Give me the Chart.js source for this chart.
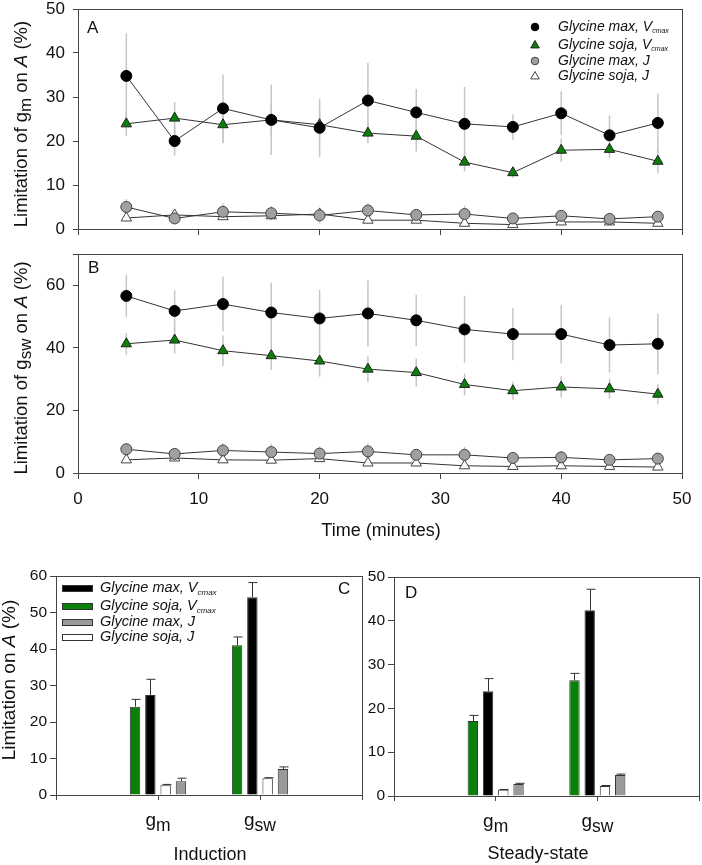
<!DOCTYPE html>
<html>
<head>
<meta charset="utf-8">
<script src="https://cdn.jsdelivr.net/npm/chart.js@4.4.1/dist/chart.umd.min.js"></script>
<style>
  body { margin: 0; background: #fff; }
  #wrap { position: relative; width: 702px; height: 865px; }
  canvas { position: absolute; }
</style>
</head>
<body>
<div id="wrap">
  <canvas id="chartA" width="702" height="240" style="left:0;top:0"></canvas>
  <canvas id="chartB" width="702" height="305" style="left:0;top:240px"></canvas>
  <canvas id="chartC" width="364" height="320" style="left:0;top:545px"></canvas>
  <canvas id="chartD" width="338" height="320" style="left:364px;top:545px"></canvas>
</div>
<script>
// time course (panels A and B)
var timeMinutes = [4, 8, 12, 16, 20, 24, 28, 32, 36, 40, 44, 48];

// panel A: limitation of gm on A (%)
var gmMaxVcmax     = [34.8, 20.0, 27.4, 24.8, 23.0, 29.2, 26.5, 23.9, 23.2, 26.3, 21.3, 24.1];
var gmMaxVcmaxSE   = [9.7, 3.3, 7.7, 8.0, 6.6, 8.5, 5.3, 8.4, 2.9, 5.0, 4.5, 6.7];
var gmSojaVcmax    = [23.9, 25.2, 23.7, 24.8, 23.7, 21.8, 21.1, 15.2, 12.8, 17.9, 18.1, 15.4];
var gmSojaVcmaxSE  = [2.7, 3.7, 4.2, 4.0, 3.0, 2.3, 3.5, 2.1, 1.2, 2.7, 2.0, 2.8];
var gmMaxJ         = [5.0, 2.4, 3.9, 3.6, 3.1, 4.2, 3.2, 3.4, 2.4, 3.0, 2.3, 2.8];
var gmMaxJSE       = [1.8, 1.0, 1.9, 1.6, 1.8, 1.7, 1.0, 1.9, 1.0, 1.2, 0.8, 1.0];
var gmSojaJ        = [2.5, 3.2, 2.8, 3.0, 3.4, 2.0, 2.0, 1.3, 1.0, 1.6, 1.6, 1.3];
var gmSojaJSE      = [0.5, 0.6, 0.5, 0.6, 0.6, 0.4, 0.4, 0.3, 0.3, 0.4, 0.4, 0.3];

// panel B: limitation of gsw on A (%)
var gswMaxVcmax    = [56.6, 51.8, 54.0, 51.3, 49.4, 51.0, 48.8, 45.9, 44.4, 44.4, 40.9, 41.3];
var gswMaxVcmaxSE  = [6.8, 6.6, 8.8, 9.5, 9.2, 10.6, 8.2, 10.7, 8.4, 9.4, 8.8, 9.7];
var gswSojaVcmax   = [41.3, 42.5, 39.1, 37.5, 35.8, 33.2, 32.1, 28.3, 26.3, 27.5, 26.9, 25.2];
var gswSojaVcmaxSE = [3.5, 4.3, 4.9, 4.6, 5.0, 4.1, 4.5, 3.5, 2.9, 3.4, 3.2, 3.2];
var gswMaxJ        = [7.6, 6.1, 7.2, 6.7, 6.2, 6.9, 5.8, 5.8, 4.8, 5.0, 4.2, 4.6];
var gswMaxJSE      = [2.0, 1.8, 2.4, 2.6, 2.3, 2.6, 1.9, 2.6, 1.7, 2.0, 1.6, 1.8];
var gswSojaJ       = [4.2, 4.8, 4.2, 4.1, 4.6, 3.2, 3.2, 2.3, 2.1, 2.3, 2.1, 1.9];
var gswSojaJSE     = [0.6, 0.6, 0.6, 0.6, 0.7, 0.5, 0.5, 0.4, 0.4, 0.4, 0.4, 0.4];

// panels C and D: subscripts of g for the two categories
var barCategories = ['m', 'sw'];
var inductionSojaVcmax   = [24.2, 41.0], inductionSojaVcmaxSE = [2.0, 2.3];
var inductionMaxVcmax    = [27.4, 54.2], inductionMaxVcmaxSE  = [4.3, 4.0];
var inductionSojaJ       = [2.7, 4.6],   inductionSojaJSE     = [0.2, 0.15];
var inductionMaxJ        = [3.8, 7.1],   inductionMaxJSE      = [0.8, 0.6];
var steadySojaVcmax      = [17.1, 26.4], steadySojaVcmaxSE    = [1.3, 1.6];
var steadyMaxVcmax       = [23.9, 42.4], steadyMaxVcmaxSE     = [2.9, 4.8];
var steadySojaJ          = [1.4, 2.3],   steadySojaJSE        = [0.1, 0.1];
var steadyMaxJ           = [2.75, 4.8],  steadyMaxJSE         = [0.15, 0.2];

var FAMILY = 'Arial, "Liberation Sans", sans-serif';
var GREEN = '#0a800a';
var EDGE = '#444';
var drawers = {};   // extra texts per canvas id

// draws a run of text pieces: [text, flags]; flags: 'i' italic, 's' small subscript, 'S' lowered full-size
function drawRich(ctx, parts, x, y, align, size) {
  function has(p, f) { return (p[1] || '').indexOf(f) >= 0; }
  function fontOf(p) {
    var sz = has(p, 's') ? Math.round(size * 0.52) : (has(p, 'S') ? size * 0.92 : size);
    return (has(p, 'i') ? 'italic ' : '') + sz + 'px ' + FAMILY;
  }
  var w = 0;
  parts.forEach(function (p) { ctx.font = fontOf(p); w += ctx.measureText(p[0]).width; });
  var cx = align === 'center' ? x - w / 2 : (align === 'right' ? x - w : x);
  ctx.textAlign = 'left';
  ctx.textBaseline = 'middle';
  ctx.fillStyle = '#111';
  parts.forEach(function (p) {
    ctx.font = fontOf(p);
    var dy = has(p, 's') ? size * 0.3 : (has(p, 'S') ? size * 0.25 : 0);
    ctx.fillText(p[0], cx, y + dy);
    cx += ctx.measureText(p[0]).width;
  });
}

function drawVTitle(ctx, parts, x, y, size) {
  ctx.save();
  ctx.translate(x, y);
  ctx.rotate(-Math.PI / 2);
  drawRich(ctx, parts, 0, 0, 'center', size);
  ctx.restore();
}

function drawMarker(ctx, style, x, y, r, fill, stroke) {
  ctx.save();
  ctx.fillStyle = fill;
  ctx.strokeStyle = stroke;
  ctx.lineWidth = 1;
  ctx.beginPath();
  if (style === 'circle') {
    ctx.arc(x, y, r, 0, Math.PI * 2);
  } else {
    ctx.moveTo(x, y - r);
    ctx.lineTo(x + r * 0.95, y + r * 0.65);
    ctx.lineTo(x - r * 0.95, y + r * 0.65);
    ctx.closePath();
  }
  ctx.fill();
  ctx.stroke();
  ctx.restore();
}

// no automatic room for label overhang: the layout padding places the plot box
function noOverhang(s) {
  s.paddingTop = 0; s.paddingBottom = 0; s.paddingLeft = 0; s.paddingRight = 0;
}

// frame, error bars and extra texts
var extras = {
  id: 'extras',
  beforeDatasetsDraw: function (chart) {
    var ctx = chart.ctx;
    var ys = chart.scales.y, xs = chart.scales.x;
    if (chart.config.type !== 'line') return;
    ctx.save();
    ctx.strokeStyle = '#c6c6c6';
    ctx.lineWidth = 1.5;
    chart.data.datasets.forEach(function (ds) {
      ds.data.forEach(function (pt, i) {
        var px = xs.getPixelForValue(pt.x);
        ctx.beginPath();
        ctx.moveTo(px, ys.getPixelForValue(pt.y - ds.errors[i]));
        ctx.lineTo(px, ys.getPixelForValue(pt.y + ds.errors[i]));
        ctx.stroke();
      });
    });
    ctx.restore();
  },
  afterDatasetsDraw: function (chart) {
    var ctx = chart.ctx;
    var ys = chart.scales.y;
    if (chart.config.type === 'bar') {
      ctx.save();
      ctx.strokeStyle = '#333';
      ctx.lineWidth = 1;
      chart.data.datasets.forEach(function (ds, di) {
        chart.getDatasetMeta(di).data.forEach(function (el, i) {
          var top = ys.getPixelForValue(ds.data[i].y + ds.errors[i]);
          var x = Math.round(el.x) + 0.5;
          ctx.beginPath();
          ctx.moveTo(x, el.y);
          ctx.lineTo(x, top);
          ctx.moveTo(x - 4, top);
          ctx.lineTo(x + 5, top);
          ctx.stroke();
        });
      });
      ctx.restore();
    }
  },
  afterDraw: function (chart) {
    var ctx = chart.ctx;
    var a = chart.chartArea;
    ctx.save();
    ctx.strokeStyle = EDGE;
    ctx.lineWidth = 1;
    ctx.strokeRect(Math.round(a.left) + 0.5, Math.round(a.top) + 0.5, Math.round(a.right - a.left), Math.round(a.bottom - a.top));
    ctx.restore();
    var fn = drawers[chart.canvas.id];
    if (fn) fn(chart, ctx);
  }
};
Chart.register(extras);

function lineSet(values, errors, style, fill, stroke, r) {
  return {
    data: timeMinutes.map(function (t, i) { return { x: t, y: values[i] }; }),
    errors: errors,
    borderColor: '#333',
    borderWidth: 1,
    pointStyle: style,
    pointRadius: r,
    pointBackgroundColor: fill,
    pointBorderColor: stroke,
    pointBorderWidth: 1
  };
}

function lineChart(id, sets, ymax, ystep, padTop, xHeight, showX, draw) {
  drawers[id] = draw;
  return new Chart(document.getElementById(id), {
    type: 'line',
    data: { datasets: sets },
    options: {
      responsive: false,
      animation: false,
      devicePixelRatio: 1,
      layout: { padding: { top: padTop, right: 20, left: 0, bottom: 0 } },
      plugins: { legend: { display: false }, tooltip: { enabled: false } },
      scales: {
        x: {
          type: 'linear', min: 0, max: 50,
          ticks: { stepSize: 10, display: showX, color: '#111', padding: 10, font: { size: 17, family: FAMILY } },
          grid: { drawOnChartArea: false, tickLength: 6, color: EDGE },
          border: { display: false },
          afterFit: function (s) { s.height = xHeight; noOverhang(s); }
        },
        y: {
          min: 0, max: ymax,
          ticks: {
            stepSize: ystep, color: '#111', padding: 8, font: { size: 17, family: FAMILY },
            callback: function (v) { return v % ystep === 0 ? v : ''; }
          },
          grid: { drawOnChartArea: false, tickLength: 5, color: EDGE },
          border: { display: false },
          afterFit: function (s) { s.width = 78; noOverhang(s); }
        }
      }
    }
  });
}

lineChart('chartA', [
  lineSet(gmMaxVcmax, gmMaxVcmaxSE, 'circle', '#000', '#000', 5.5),
  lineSet(gmSojaVcmax, gmSojaVcmaxSE, 'triangle', GREEN, '#222', 6),
  lineSet(gmMaxJ, gmMaxJSE, 'circle', '#a0a0a0', '#444', 5.5),
  lineSet(gmSojaJ, gmSojaJSE, 'triangle', '#fff', '#444', 6)
], 50, 10, 9, 11, false, function (chart, ctx) {
  drawVTitle(ctx, [['Limitation of g'], ['m', 'S'], [' on '], ['A', 'i'], [' (%)']], 22, 124, 18.5);
  drawRich(ctx, [['A']], 87, 28, 'left', 17);
  var rows = [
    ['circle', '#000', '#000', [['Glycine max, V', 'i'], ['cmax', 'is']]],
    ['triangle', GREEN, '#222', [['Glycine soja, V', 'i'], ['cmax', 'is']]],
    ['circle', '#a0a0a0', '#444', [['Glycine max, J', 'i']]],
    ['triangle', '#fff', '#444', [['Glycine soja, J', 'i']]]
  ];
  var ry = [27, 45, 61, 76];
  rows.forEach(function (r, i) {
    drawMarker(ctx, r[0], 535, ry[i], r[0] === 'circle' ? 3.8 : 4.5, r[1], r[2]);
    drawRich(ctx, r[3], 558, ry[i], 'left', 14);
  });
});

lineChart('chartB', [
  lineSet(gswMaxVcmax, gswMaxVcmaxSE, 'circle', '#000', '#000', 5.5),
  lineSet(gswSojaVcmax, gswSojaVcmaxSE, 'triangle', GREEN, '#222', 6),
  lineSet(gswMaxJ, gswMaxJSE, 'circle', '#a0a0a0', '#444', 5.5),
  lineSet(gswSojaJ, gswSojaJSE, 'triangle', '#fff', '#444', 6)
], 70, 20, 14, 72, true, function (chart, ctx) {
  drawVTitle(ctx, [['Limitation of g'], ['sw', 'S'], [' on '], ['A', 'i'], [' (%)']], 22, 128, 18.5);
  drawRich(ctx, [['B']], 88, 28, 'left', 17);
  drawRich(ctx, [['Time (minutes)']], 381, 291, 'center', 18);
});

function barSet(values, errors, fill) {
  return {
    data: values.map(function (v, i) { return { x: i + 1, y: v }; }),
    errors: errors,
    backgroundColor: fill,
    borderColor: '#333',
    borderWidth: 1,
    categoryPercentage: 0.6,
    barPercentage: 0.68
  };
}

function barChart(id, sets, ymax, pad, yWidth, xHeight, draw) {
  drawers[id] = draw;
  return new Chart(document.getElementById(id), {
    type: 'bar',
    data: { datasets: sets },
    options: {
      responsive: false,
      animation: false,
      devicePixelRatio: 1,
      layout: { padding: pad },
      plugins: { legend: { display: false }, tooltip: { enabled: false } },
      scales: {
        x: {
          type: 'linear', min: 0, max: barCategories.length + 1, offset: false,
          ticks: { stepSize: 1, display: false },
          grid: { drawOnChartArea: false, tickLength: 5, color: EDGE, offset: false },
          border: { display: false },
          afterFit: function (s) { s.height = xHeight; noOverhang(s); }
        },
        y: {
          min: 0, max: ymax,
          ticks: { stepSize: 10, color: '#111', padding: 3, font: { size: 15.5, family: FAMILY } },
          grid: { drawOnChartArea: false, tickLength: 6, color: EDGE },
          border: { display: false },
          afterFit: function (s) { s.width = yWidth; noOverhang(s); }
        }
      }
    }
  });
}

function categoryLabels(chart, ctx, y) {
  barCategories.forEach(function (c, i) {
    drawRich(ctx, [['g'], [c, 'S']], chart.scales.x.getPixelForValue(i + 1), y, 'center', 19);
  });
}

barChart('chartC', [
  barSet(inductionSojaVcmax, inductionSojaVcmaxSE, GREEN),
  barSet(inductionMaxVcmax, inductionMaxVcmaxSE, '#000'),
  barSet(inductionSojaJ, inductionSojaJSE, '#fff'),
  barSet(inductionMaxJ, inductionMaxJSE, '#9a9a9a')
], 60, { top: 31, right: 2, left: 0, bottom: 0 }, 56, 70, function (chart, ctx) {
  drawVTitle(ctx, [['Limitation on '], ['A', 'i'], [' (%)']], 10, 135, 19);
  drawRich(ctx, [['C']], 338, 44, 'left', 17);
  categoryLabels(chart, ctx, 276);
  drawRich(ctx, [['Induction']], 210, 310, 'center', 18);
  var rows = [
    ['#000', [['Glycine max, V', 'i'], ['cmax', 'is']]],
    [GREEN, [['Glycine soja, V', 'i'], ['cmax', 'is']]],
    ['#9a9a9a', [['Glycine max, J', 'i']]],
    ['#fff', [['Glycine soja, J', 'i']]]
  ];
  var ry = [43, 61, 77, 92];
  rows.forEach(function (r, i) {
    ctx.fillStyle = r[0];
    ctx.strokeStyle = '#333';
    ctx.lineWidth = 1;
    ctx.fillRect(62, ry[i] - 3, 30, 6);
    ctx.strokeRect(62.5, ry[i] - 2.5, 30, 6);
    drawRich(ctx, r[1], 100, ry[i], 'left', 14.5);
  });
});

barChart('chartD', [
  barSet(steadySojaVcmax, steadySojaVcmaxSE, GREEN),
  barSet(steadyMaxVcmax, steadyMaxVcmaxSE, '#000'),
  barSet(steadySojaJ, steadySojaJSE, '#fff'),
  barSet(steadyMaxJ, steadyMaxJSE, '#9a9a9a')
], 50, { top: 32, right: 3, left: 0, bottom: 0 }, 30, 69, function (chart, ctx) {
  drawRich(ctx, [['D']], 41, 48, 'left', 17);
  categoryLabels(chart, ctx, 277);
  drawRich(ctx, [['Steady-state']], 174, 309, 'center', 18);
});
</script>
</body>
</html>
